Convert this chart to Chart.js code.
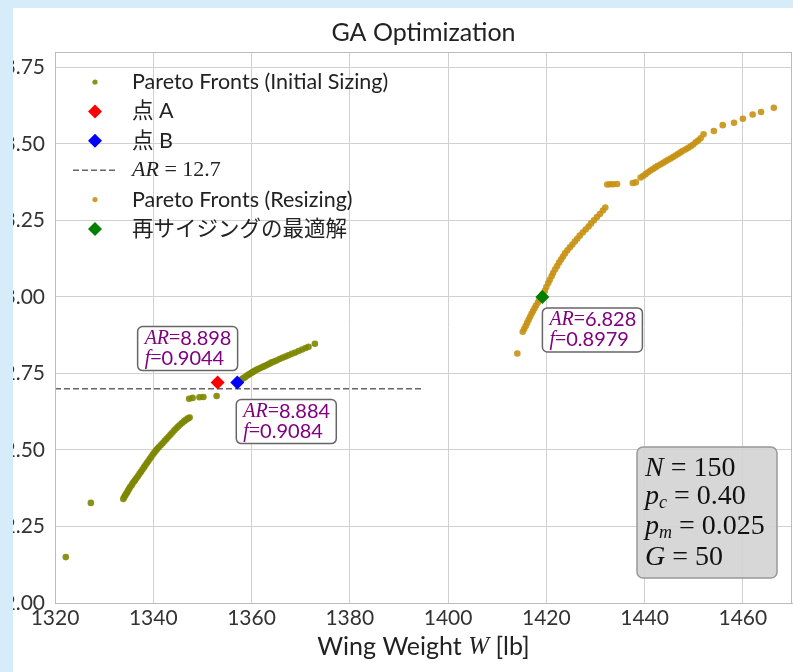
<!DOCTYPE html>
<html lang="ja">
<head>
<meta charset="UTF-8">
<title>GA Optimization</title>
<style>
  html, body { margin: 0; padding: 0; background: #fff; }
  #wrap { position: relative; width: 793px; height: 672px; overflow: hidden; }
  #edgeL { position: absolute; left: 0; top: 0; width: 13px; height: 672px; background: #d6ecf8; }
  #edgeT { position: absolute; left: 0; top: 0; width: 793px; height: 8px; background: #d6ecf8; }
</style>
</head>
<body>
<div id="wrap">
  <!-- a bit wider than the window: Chart.js keeps ~6px on the right, the wrapper clips it -->
  <canvas id="myChart" width="799" height="672"></canvas>
  <div id="edgeL"></div>
  <div id="edgeT"></div>
</div>

<script src="https://cdn.jsdelivr.net/npm/chart.js@4.4.1/dist/chart.umd.min.js"></script>
<script>
// Pareto front, initial sizing (wing weight, y value)
var initW = [1322.2, 1327.3,
  1333.9, 1334.1, 1334.3, 1334.5, 1334.7, 1334.9, 1335.1, 1335.3, 1335.6, 1335.8,
  1336.1, 1336.3, 1336.6, 1336.9, 1337.2, 1337.5, 1337.8, 1338.1, 1338.4, 1338.7,
  1339.0, 1339.3, 1339.6, 1339.9, 1340.2, 1340.5, 1340.8, 1341.1, 1341.5, 1341.9,
  1342.3, 1342.7, 1343.1, 1343.5, 1343.9, 1344.3, 1344.7, 1345.1, 1345.5, 1345.9,
  1346.3, 1346.7, 1347.1, 1347.4,
  1347.3, 1348.0, 1349.4, 1350.2, 1352.9,
  1357.6, 1357.9, 1358.2, 1358.5, 1358.8, 1359.1, 1359.4, 1359.7, 1360.0, 1360.3,
  1360.6, 1360.9, 1361.3, 1361.7, 1362.1, 1362.5, 1362.9, 1363.3, 1363.7, 1364.1,
  1364.6, 1365.1, 1365.7, 1366.3, 1366.9, 1367.5, 1368.2, 1368.9, 1369.6, 1370.3,
  1371.0, 1371.6, 1372.9];
var initY = [2.150, 2.327,
  2.340, 2.346, 2.352, 2.357, 2.362, 2.368, 2.373, 2.379, 2.385, 2.391,
  2.397, 2.402, 2.408, 2.415, 2.422, 2.429, 2.436, 2.443, 2.450, 2.457,
  2.464, 2.471, 2.478, 2.485, 2.491, 2.497, 2.503, 2.509, 2.515, 2.522,
  2.529, 2.536, 2.543, 2.550, 2.557, 2.564, 2.571, 2.577, 2.583, 2.589,
  2.594, 2.599, 2.603, 2.606,
  2.667, 2.670, 2.672, 2.673, 2.676,
  2.726, 2.729, 2.733, 2.736, 2.739, 2.743, 2.746, 2.749, 2.752, 2.755,
  2.758, 2.761, 2.764, 2.767, 2.770, 2.773, 2.776, 2.779, 2.782, 2.786,
  2.789, 2.792, 2.797, 2.801, 2.805, 2.809, 2.814, 2.818, 2.823, 2.828,
  2.833, 2.837, 2.847];

// Pareto front, resizing
var reW = [1414.1,
  1415.2, 1415.5, 1415.8, 1416.1, 1416.4, 1416.7, 1417.0, 1417.3, 1417.6, 1417.9,
  1418.3, 1418.6, 1419.0, 1419.3, 1419.7, 1420.0, 1420.4, 1420.7, 1421.1, 1421.4,
  1421.8, 1422.2, 1422.6, 1423.0, 1423.4, 1423.8, 1424.3, 1424.8, 1425.3, 1425.8,
  1426.3, 1426.8, 1427.4, 1428.0, 1428.6, 1429.1, 1429.7, 1430.3, 1430.9, 1431.5,
  1432.0,
  1432.4, 1433.0, 1433.6, 1434.4, 1437.6, 1438.2,
  1439.2, 1439.7, 1440.2, 1440.7, 1441.2, 1441.7, 1442.2, 1442.7, 1443.3, 1443.8,
  1444.3, 1444.8, 1445.3, 1445.8, 1446.3, 1446.8, 1447.3, 1447.8, 1448.4, 1448.9,
  1449.4, 1449.9, 1450.4, 1450.9, 1451.4, 1452.0,
  1454.1, 1455.9, 1458.2, 1460.0, 1462.0, 1463.7, 1466.3];
var reY = [2.815,
  2.886, 2.895, 2.905, 2.915, 2.925, 2.935, 2.945, 2.954, 2.963, 2.972,
  2.982, 2.991, 3.000, 3.010, 3.020, 3.032, 3.045, 3.056, 3.068, 3.079,
  3.090, 3.101, 3.112, 3.122, 3.132, 3.142, 3.152, 3.162, 3.171, 3.181,
  3.190, 3.200, 3.210, 3.220, 3.230, 3.240, 3.250, 3.261, 3.271, 3.282,
  3.292,
  3.367, 3.368, 3.368, 3.369, 3.372, 3.374,
  3.390, 3.395, 3.401, 3.407, 3.413, 3.418, 3.423, 3.428, 3.433, 3.438,
  3.443, 3.448, 3.452, 3.457, 3.462, 3.467, 3.472, 3.477, 3.482, 3.487,
  3.492, 3.498, 3.505, 3.511, 3.518, 3.531,
  3.542, 3.561, 3.569, 3.582, 3.596, 3.604, 3.618];

// highlighted solutions
var pointA = {x: 1353.1, y: 2.720, AR: '8.898', f: '0.9044'};
var pointB = {x: 1357.1, y: 2.720, AR: '8.884', f: '0.9084'};
var bestRe = {x: 1419.2, y: 3.000, AR: '6.828', f: '0.8979'};

// AR = 12.7 line
var arLineW = [1320, 1395];
var arLineY = 2.70;

var xTicks = [1320, 1340, 1360, 1380, 1400, 1420, 1440, 1460];
var yTicks = [2.00, 2.25, 2.50, 2.75, 3.00, 3.25, 3.50, 3.75];

var legendLabels = ['Pareto Fronts (Initial Sizing)', '点 A', '点 B', 'AR = 12.7',
  'Pareto Fronts (Resizing)', '再サイジングの最適解'];

var SANS = 'Lato, "Noto Sans CJK JP", sans-serif';
var SERIF = '"Liberation Serif", "DejaVu Serif", serif';
var OLIVE = 'rgba(125,135,0,0.9)';
var GOLD = 'rgba(200,146,20,0.9)';

function pairs(xs, ys) {
  return xs.map(function (x, i) { return {x: x, y: ys[i]}; });
}

// draw a list of text runs with different fonts, left to right
function drawRuns(ctx, runs, x, y) {
  runs.forEach(function (r) {
    ctx.font = r.f;
    ctx.fillText(r.t, x, y + (r.dy || 0));
    x += ctx.measureText(r.t).width;
  });
  return x;
}

function roundBox(ctx, x, y, w, h, r) {
  ctx.beginPath();
  ctx.moveTo(x + r, y);
  ctx.arcTo(x + w, y, x + w, y + h, r);
  ctx.arcTo(x + w, y + h, x, y + h, r);
  ctx.arcTo(x, y + h, x, y, r);
  ctx.arcTo(x, y, x + w, y, r);
  ctx.closePath();
}

function arLabel(ctx, x, y, p) {
  ctx.save();
  roundBox(ctx, x, y, 100, 44, 5);
  ctx.fillStyle = 'rgba(255,255,255,0.9)';
  ctx.fill();
  ctx.lineWidth = 1.5;
  ctx.strokeStyle = '#666';
  ctx.stroke();
  ctx.fillStyle = '#800080';
  ctx.textBaseline = 'middle';
  ctx.textAlign = 'left';
  drawRuns(ctx, [
    {t: 'AR', f: 'italic 20px ' + SERIF},
    {t: '=', f: '20px ' + SERIF},
    {t: p.AR, f: '20px ' + SANS}
  ], x + 7, y + 12);
  drawRuns(ctx, [
    {t: 'f', f: 'italic 20px ' + SERIF},
    {t: '=', f: '20px ' + SERIF},
    {t: p.f, f: '20px ' + SANS}
  ], x + 7, y + 32);
  ctx.restore();
}

var decorations = {
  id: 'decorations',
  afterDraw: function (chart) {
    var ctx = chart.ctx, a = chart.chartArea;
    ctx.save();
    // frame
    ctx.strokeStyle = '#bbb';
    ctx.lineWidth = 1;
    ctx.strokeRect(a.left + 0.5, a.top + 0.5, a.right - a.left - 1, a.bottom - a.top);

    // title and x label
    ctx.fillStyle = '#222';
    ctx.textBaseline = 'middle';
    ctx.textAlign = 'center';
    ctx.font = '25px ' + SANS;
    var cx = (a.left + a.right) / 2;
    ctx.fillText('GA Optimization', cx, 33);

    ctx.textAlign = 'left';
    var parts = [
      {t: 'Wing Weight ', f: '25px ' + SANS},
      {t: 'W', f: 'italic 25px ' + SERIF},
      {t: ' [lb]', f: '25px ' + SANS}
    ];
    var w = 0;
    parts.forEach(function (p) { ctx.font = p.f; w += ctx.measureText(p.t).width; });
    drawRuns(ctx, parts, cx - w / 2, 647);

    // annotations near the highlighted points
    var mA = chart.getDatasetMeta(1).data[0];
    var mB = chart.getDatasetMeta(2).data[0];
    var mG = chart.getDatasetMeta(5).data[0];
    arLabel(ctx, mA.x - 80, mA.y - 56, pointA);
    arLabel(ctx, mB.x - 1, mB.y + 17, pointB);
    arLabel(ctx, mG.x, mG.y + 11, bestRe);

    // GA parameters box
    var bx = a.right - 155, by = a.bottom - 156;
    roundBox(ctx, bx, by, 140, 131, 6);
    ctx.fillStyle = 'rgba(211,211,211,0.9)';
    ctx.fill();
    ctx.strokeStyle = '#999';
    ctx.lineWidth = 1.5;
    ctx.stroke();
    ctx.fillStyle = '#111';
    ctx.textBaseline = 'middle';
    var F = '28px ' + SERIF, FI = 'italic 28px ' + SERIF, FS = 'italic 18px ' + SERIF;
    var tx = bx + 8;
    drawRuns(ctx, [{t: 'N', f: FI}, {t: ' = 150', f: F}], tx, by + 22);
    drawRuns(ctx, [{t: 'p', f: FI}, {t: 'c', f: FS, dy: 6}, {t: ' = 0.40', f: F}], tx, by + 50);
    drawRuns(ctx, [{t: 'p', f: FI}, {t: 'm', f: FS, dy: 6}, {t: ' = 0.025', f: F}], tx, by + 80);
    drawRuns(ctx, [{t: 'G', f: FI}, {t: ' = 50', f: F}], tx, by + 111);

    // legend
    var lx = a.left + 40, ty = a.left + 77, y0 = a.top + 30, dy = 29.4;
    var ds = chart.data.datasets;
    for (var i = 0; i < 6; i++) {
      var yy = y0 + i * dy;
      var d = ds[i];
      ctx.fillStyle = d.backgroundColor;
      if (i === 3) {
        ctx.strokeStyle = d.borderColor;
        ctx.lineWidth = 1.5;
        ctx.setLineDash(d.borderDash);
        ctx.beginPath();
        ctx.moveTo(lx - 22, yy);
        ctx.lineTo(lx + 22, yy);
        ctx.stroke();
        ctx.setLineDash([]);
        ctx.fillStyle = '#222';
        drawRuns(ctx, [
          {t: 'AR', f: 'italic 22px ' + SERIF},
          {t: ' = 12.7', f: '22px ' + SERIF}
        ], ty, yy);
        continue;
      } else if (d.pointStyle === 'rectRot') {
        ctx.beginPath();
        ctx.moveTo(lx, yy - 7); ctx.lineTo(lx + 7, yy); ctx.lineTo(lx, yy + 7); ctx.lineTo(lx - 7, yy);
        ctx.closePath();
        ctx.fill();
      } else {
        ctx.beginPath();
        ctx.arc(lx, yy, 2.6, 0, Math.PI * 2);
        ctx.fill();
      }
      ctx.fillStyle = '#222';
      ctx.font = '21.5px ' + SANS;
      ctx.fillText(legendLabels[i], ty, yy);
    }
    ctx.restore();
  }
};

var ctx = document.getElementById('myChart').getContext('2d');
var chart = new Chart(ctx, {
  type: 'scatter',
  data: {
    datasets: [{
      label: legendLabels[0],
      data: pairs(initW, initY),
      backgroundColor: OLIVE,
      borderWidth: 0,
      pointRadius: 3.3,
      order: 2
    }, {
      label: legendLabels[1],
      data: [{x: pointA.x, y: pointA.y}],
      backgroundColor: 'red',
      borderWidth: 0,
      pointStyle: 'rectRot',
      pointRadius: 7,
      order: 0
    }, {
      label: legendLabels[2],
      data: [{x: pointB.x, y: pointB.y}],
      backgroundColor: 'blue',
      borderWidth: 0,
      pointStyle: 'rectRot',
      pointRadius: 7,
      order: 0
    }, {
      type: 'line',
      label: legendLabels[3],
      data: arLineW.map(function (x) { return {x: x, y: arLineY}; }),
      borderColor: '#666',
      backgroundColor: '#666',
      borderWidth: 1.5,
      borderDash: [6, 3],
      pointRadius: 0,
      fill: false,
      order: 1
    }, {
      label: legendLabels[4],
      data: pairs(reW, reY),
      backgroundColor: GOLD,
      borderWidth: 0,
      pointRadius: 3.3,
      order: 2
    }, {
      label: legendLabels[5],
      data: [{x: bestRe.x, y: bestRe.y}],
      backgroundColor: 'green',
      borderWidth: 0,
      pointStyle: 'rectRot',
      pointRadius: 7,
      order: 0
    }]
  },
  options: {
    responsive: false,
    animation: false,
    layout: { padding: { top: 52, right: 0, bottom: 0, left: 0 } },
    plugins: {
      legend: { display: false },
      title: { display: false },
      tooltip: { enabled: false }
    },
    scales: {
      x: {
        type: 'linear',
        min: 1320,
        max: 1470,
        afterFit: function (s) { s.height = 69; s.paddingLeft = 0; s.paddingRight = 0; },
        afterBuildTicks: function (s) {
          s.ticks = xTicks.map(function (v) { return {value: v}; });
        },
        ticks: {
          color: '#333',
          font: { family: SANS, size: 21 },
          padding: 3,
          maxRotation: 0,
          autoSkip: false,
          callback: function (v) { return String(v); }
        },
        grid: { color: '#d0d0d0', drawTicks: false },
        border: { color: '#bbb' }
      },
      y: {
        type: 'linear',
        min: 2.0,
        max: 3.8,
        afterFit: function (s) { s.width = 55; s.paddingTop = 0; s.paddingBottom = 0; },
        afterBuildTicks: function (s) {
          s.ticks = yTicks.map(function (v) { return {value: v}; });
        },
        ticks: {
          color: '#333',
          font: { family: SANS, size: 21 },
          padding: 10,
          autoSkip: false,
          callback: function (v) { return v.toFixed(2); }
        },
        grid: { color: '#d0d0d0', drawTicks: false },
        border: { color: '#bbb' }
      }
    }
  },
  plugins: [decorations]
});
</script>
</body>
</html>
